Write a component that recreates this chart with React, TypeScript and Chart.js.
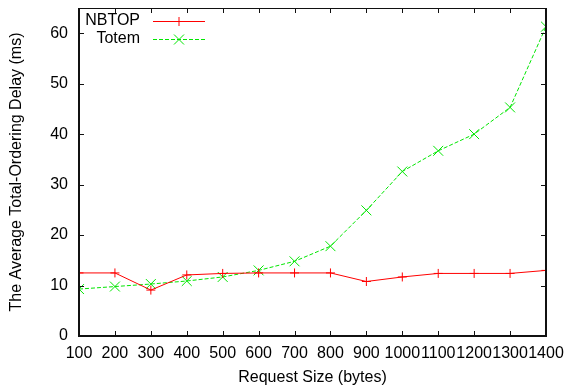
import React, { useEffect, useRef } from "react";
import { Chart, registerables } from "chart.js";

Chart.register(...registerables);

const requestSizes = [100, 200, 300, 400, 500, 600, 700, 800, 900, 1000, 1100, 1200, 1300, 1400];
const nbtopDelay = [12.5, 12.5, 9.1, 12.1, 12.4, 12.5, 12.5, 12.5, 10.8, 11.7, 12.4, 12.4, 12.4, 13.0];
const totemDelay = [9.3, 9.8, 10.3, 10.9, 11.7, 13.0, 14.8, 17.8, 24.9, 32.6, 36.7, 40.0, 45.3, 61.3];
const yTicks = [0, 10, 20, 30, 40, 50, 60];
const seriesNames = ["NBTOP", "Totem"];

const RED = "#ff0000";
const GREEN = "#00e600";
const FONT = "'Liberation Sans', Arial, Helvetica, sans-serif";

const framePlugin = {
  id: "gnuplotFrame",
  afterDraw(chart: any) {
    const { ctx, chartArea } = chart;
    const { left, right, top, bottom } = chartArea;
    const xs = chart.scales.x;
    const ys = chart.scales.y;
    const tl = 5;
    const L = Math.round(left);
    const R = Math.round(right);
    const T = Math.round(top);
    const B = Math.round(bottom);
    ctx.save();
    ctx.setLineDash([]);
    ctx.strokeStyle = "#111";
    // frame
    ctx.lineWidth = 1;
    ctx.beginPath();
    ctx.moveTo(L, T + 0.5);
    ctx.lineTo(R, T + 0.5);
    ctx.stroke();
    ctx.lineWidth = 2;
    ctx.beginPath();
    ctx.moveTo(L, T);
    ctx.lineTo(L, B);
    ctx.lineTo(R, B);
    ctx.lineTo(R, T);
    ctx.stroke();
    // inward ticks on all four sides
    ctx.lineWidth = 1;
    ctx.beginPath();
    xs.ticks.forEach((t: any) => {
      const px = Math.round(xs.getPixelForValue(t.value)) + 0.5;
      ctx.moveTo(px, B);
      ctx.lineTo(px, B - tl);
      ctx.moveTo(px, T);
      ctx.lineTo(px, T + tl);
    });
    ys.ticks.forEach((t: any) => {
      const py = Math.round(ys.getPixelForValue(t.value)) + 0.5;
      ctx.moveTo(L, py);
      ctx.lineTo(L + tl, py);
      ctx.moveTo(R, py);
      ctx.lineTo(R - tl, py);
    });
    ctx.stroke();

    // legend
    ctx.font = `16px ${FONT}`;
    ctx.textAlign = "right";
    ctx.textBaseline = "middle";
    const rows = [
      { name: seriesNames[0], color: RED, dash: [] as number[], y: 21, cross: true },
      { name: seriesNames[1], color: GREEN, dash: [4, 2], y: 39, cross: false },
    ];
    rows.forEach((r) => {
      ctx.fillStyle = "#000";
      ctx.fillText(r.name, 140, r.y);
      ctx.strokeStyle = r.color;
      ctx.lineWidth = 1;
      ctx.setLineDash(r.dash);
      ctx.beginPath();
      ctx.moveTo(153, r.y + 0.5);
      ctx.lineTo(205, r.y + 0.5);
      ctx.stroke();
      ctx.setLineDash([]);
      ctx.beginPath();
      const cx = 179, cy = r.y + 0.5;
      if (r.cross) {
        ctx.moveTo(cx - 4.5, cy);
        ctx.lineTo(cx + 4.5, cy);
        ctx.moveTo(cx, cy - 4.5);
        ctx.lineTo(cx, cy + 4.5);
      } else {
        ctx.moveTo(cx - 5, cy - 5);
        ctx.lineTo(cx + 5, cy + 5);
        ctx.moveTo(cx - 5, cy + 5);
        ctx.lineTo(cx + 5, cy - 5);
      }
      ctx.stroke();
    });
    ctx.restore();
  },
};

export default function App() {
  const canvasRef = useRef<HTMLCanvasElement>(null);

  useEffect(() => {
    if (!canvasRef.current) return;
    const chart = new Chart(canvasRef.current, {
      type: "line",
      data: {
        datasets: [
          {
            label: seriesNames[0],
            data: requestSizes.map((x, i) => ({ x, y: nbtopDelay[i] })),
            borderColor: RED,
            backgroundColor: RED,
            borderWidth: 1,
            pointStyle: "cross",
            pointRadius: 4.5,
            pointBorderWidth: 1,
            pointBorderColor: RED,
            tension: 0,
            fill: false,
          },
          {
            label: seriesNames[1],
            data: requestSizes.map((x, i) => ({ x, y: totemDelay[i] })),
            borderColor: GREEN,
            backgroundColor: GREEN,
            borderWidth: 1,
            borderDash: [4, 2],
            pointStyle: "crossRot",
            pointRadius: 7,
            pointBorderWidth: 1,
            pointBorderColor: GREEN,
            tension: 0,
            fill: false,
          },
        ],
      },
      options: {
        animation: false,
        responsive: false,
        devicePixelRatio: 1,
        layout: { padding: { top: 7, right: 24, left: 0, bottom: 0 } },
        plugins: { legend: { display: false }, tooltip: { enabled: false } },
        scales: {
          x: {
            type: "linear",
            min: 100,
            max: 1400,
            grid: { display: false, drawTicks: false },
            border: { display: false },
            afterBuildTicks: (scale: any) => {
              scale.ticks = requestSizes.map((v) => ({ value: v }));
            },
            ticks: {
              autoSkip: false,
              maxRotation: 0,
              minRotation: 0,
              padding: 8,
              color: "#000",
              font: { family: FONT, size: 16 },
              callback: (v: any) => String(v),
            },
            title: {
              display: true,
              text: "Request Size (bytes)",
              color: "#000",
              font: { family: FONT, size: 16 },
              padding: { top: 0, bottom: 4 },
            },
            afterFit: (scale: any) => {
              scale.height = 55;
              scale.paddingLeft = 0;
              scale.paddingRight = 0;
              scale.paddingTop = 0;
              scale.paddingBottom = 0;
            },
          },
          y: {
            type: "linear",
            min: 0,
            max: 65,
            grid: { display: false, drawTicks: false },
            border: { display: false },
            afterBuildTicks: (scale: any) => {
              scale.ticks = yTicks.map((v) => ({ value: v }));
            },
            ticks: {
              padding: 11,
              color: "#000",
              font: { family: FONT, size: 16 },
              callback: (v: any) => String(v),
            },
            title: {
              display: true,
              text: "The Average Total-Ordering Delay (ms)",
              color: "#000",
              font: { family: FONT, size: 16 },
              padding: { top: 7, bottom: 0 },
            },
            afterFit: (scale: any) => {
              scale.width = 79;
              scale.paddingLeft = 0;
              scale.paddingRight = 0;
              scale.paddingTop = 0;
              scale.paddingBottom = 0;
            },
          },
        },
      },
      plugins: [framePlugin],
    });
    return () => chart.destroy();
  }, []);

  return (
    <div style={{ position: "fixed", left: 0, top: 0, width: 570, height: 391, background: "#fff" }}>
      <canvas ref={canvasRef} width={570} height={391} style={{ display: "block", width: 570, height: 391 }} />
    </div>
  );
}
